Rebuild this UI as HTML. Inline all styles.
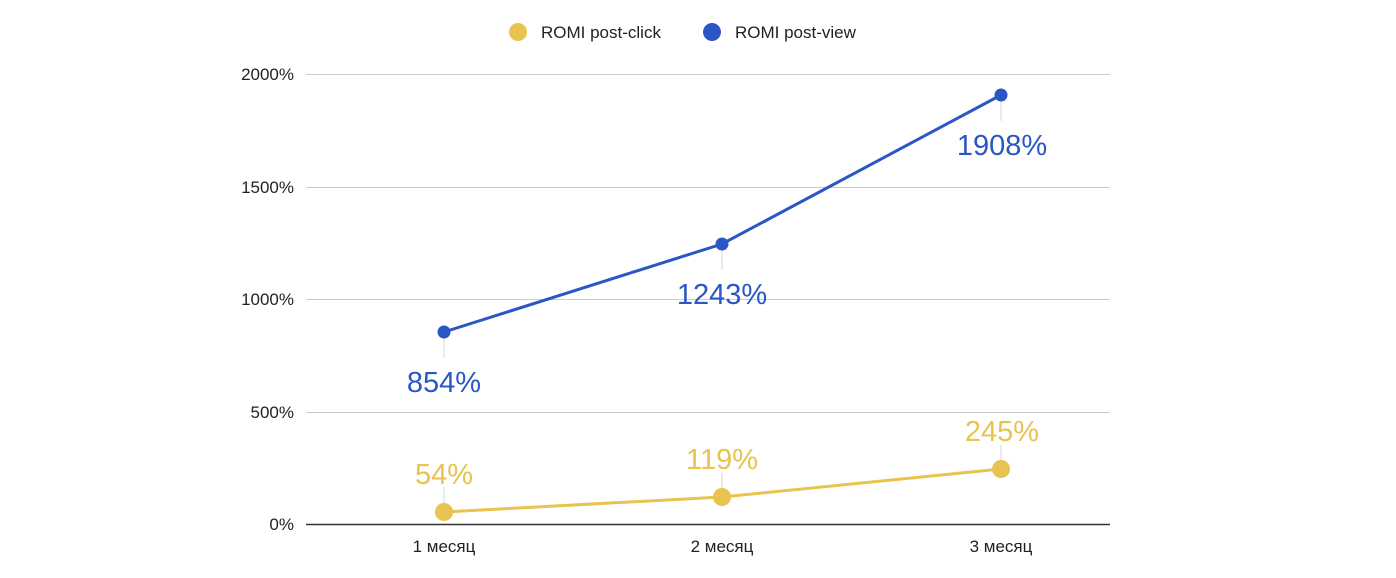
<!DOCTYPE html>
<html><head><meta charset="utf-8"><style>body{margin:0;background:#fff}svg{display:block}</style></head><body>
<svg width="1396" height="578" xmlns="http://www.w3.org/2000/svg" font-family="Liberation Sans, Arial, sans-serif">
<g stroke="#cccccc" stroke-width="1">
<line x1="306" y1="74.5" x2="1110" y2="74.5"/>
<line x1="306" y1="187.5" x2="1110" y2="187.5"/>
<line x1="306" y1="299.5" x2="1110" y2="299.5"/>
<line x1="306" y1="412.5" x2="1110" y2="412.5"/>
</g>
<line x1="306" y1="524.5" x2="1110" y2="524.5" stroke="#333" stroke-width="1.5"/>
<g font-size="17" fill="#222" text-anchor="end">
<text x="294" y="80">2000%</text>
<text x="294" y="193">1500%</text>
<text x="294" y="305">1000%</text>
<text x="294" y="418">500%</text>
<text x="294" y="530">0%</text>
</g>
<g font-size="17" fill="#222" text-anchor="middle">
<text x="444" y="552">1 месяц</text>
<text x="722" y="552">2 месяц</text>
<text x="1001" y="552">3 месяц</text>
</g>
<g stroke="#e3e3e3" stroke-width="1.5">
<line x1="444" y1="332" x2="444" y2="358"/>
<line x1="722" y1="244" x2="722" y2="270"/>
<line x1="1001" y1="95" x2="1001" y2="121"/>
<line x1="444" y1="487" x2="444" y2="512"/>
<line x1="722" y1="473" x2="722" y2="497"/>
<line x1="1001" y1="445" x2="1001" y2="469"/>
</g>
<polyline points="444,332 722,244 1001,95" fill="none" stroke="#2a56c6" stroke-width="3"/>
<g fill="#2a56c6"><circle cx="444" cy="332" r="6.5"/><circle cx="722" cy="244" r="6.5"/><circle cx="1001" cy="95" r="6.5"/></g>
<polyline points="444,512 722,497 1001,469" fill="none" stroke="#e8c34f" stroke-width="3"/>
<g fill="#e8c34f"><circle cx="444" cy="512" r="9"/><circle cx="722" cy="497" r="9"/><circle cx="1001" cy="469" r="9"/></g>
<g font-size="29" fill="#2a56c6" text-anchor="middle">
<text x="444" y="392">854%</text>
<text x="722" y="304">1243%</text>
<text x="1002" y="155">1908%</text>
</g>
<g font-size="29" fill="#e8c34f" text-anchor="middle">
<text x="444" y="484">54%</text>
<text x="722" y="469">119%</text>
<text x="1002" y="441">245%</text>
</g>
<circle cx="518" cy="32" r="9" fill="#e8c34f"/>
<text x="541" y="38" font-size="17" fill="#222">ROMI post-click</text>
<circle cx="712" cy="32" r="9" fill="#2a56c6"/>
<text x="735" y="38" font-size="17" fill="#222">ROMI post-view</text>
</svg>
</body></html>
